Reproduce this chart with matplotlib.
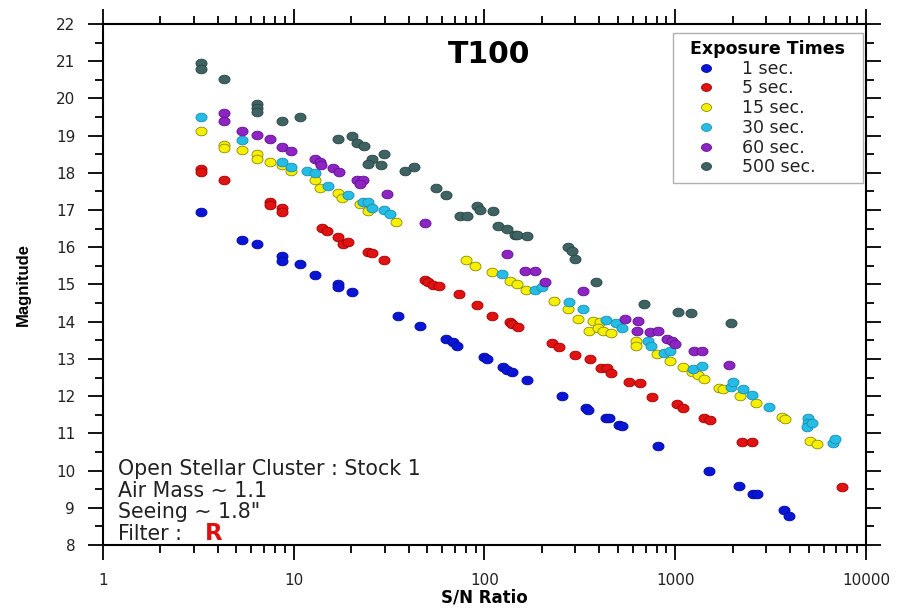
import matplotlib.pyplot as plt
import numpy as np
from matplotlib.path import Path
from matplotlib.ticker import LogLocator, MultipleLocator, FixedLocator

plt.rcParams['font.family'] = ['DejaVu Sans']

# S/N ratio and magnitude, one pair of lists per exposure time
sn_1 = [3.25, 5.38, 6.44, 8.65, 8.65, 10.8, 12.9, 17.1, 17.1, 20.3, 35.1, 45.7, 62.8, 68.6, 71.5,
        99.4, 103.5, 125.6, 131.7, 138.9, 166.4, 255.8, 339.5, 350, 431.7, 449.5, 507, 524, 815,
        1508, 2147, 2566, 2673, 3716, 3948]
mag_1 = [16.95, 16.2, 16.1, 15.77, 15.64, 15.55, 15.25, 15.0, 14.93, 14.79, 14.16, 13.88, 13.53, 13.45, 13.36,
         13.05, 12.99, 12.79, 12.7, 12.64, 12.43, 12.0, 11.69, 11.64, 11.42, 11.42, 11.23, 11.2, 10.66,
         10.0, 9.58, 9.36, 9.36, 8.94, 8.77]

sn_5 = [3.25, 3.25, 4.31, 7.51, 7.51, 8.65, 8.65, 14.0, 14.9, 17.1, 18.2, 19.3, 24.6, 25.8, 29.8,
        48.8, 50.7, 53.9, 58.0, 73.2, 91.7, 109.9, 136, 139, 149.3, 225, 246, 298, 357, 408, 439,
        460, 574, 653, 753, 1018, 1094, 1420, 1521, 2230, 2535, 7460]
mag_5 = [18.1, 18.01, 17.8, 17.21, 17.14, 17.06, 16.96, 16.51, 16.44, 16.28, 16.09, 16.15, 15.87, 15.85, 15.67,
         15.12, 15.06, 14.99, 14.96, 14.74, 14.45, 14.15, 14.0, 13.94, 13.87, 13.44, 13.31, 13.1, 12.99, 12.75, 12.75,
         12.63, 12.37, 12.34, 11.99, 11.78, 11.67, 11.4, 11.37, 10.76, 10.76, 9.55]

sn_15 = [3.25, 4.31, 4.31, 5.38, 6.44, 6.44, 7.51, 8.65, 9.64, 12.9, 13.7, 17.1, 18.0, 22.2, 24.6, 34.2,
         79.7, 89.1, 109.9, 136, 148.6, 165, 231, 275, 310, 372, 403, 353, 395, 420, 459, 622, 622,
         805, 938, 1094, 1219, 1312, 1415, 1695, 1786, 2184, 2641, 3640, 3761, 5086, 5555]
mag_15 = [19.12, 18.76, 18.67, 18.62, 18.5, 18.37, 18.3, 18.2, 18.05, 17.8, 17.6, 17.45, 17.33, 17.15, 16.97, 16.68,
          15.66, 15.5, 15.33, 15.1, 15.0, 14.86, 14.55, 14.34, 14.08, 14.01, 13.98, 13.76, 13.83, 13.75, 13.7, 13.47, 13.34,
          13.12, 12.95, 12.78, 12.64, 12.58, 12.47, 12.23, 12.19, 12.01, 11.81, 11.43, 11.39, 10.79, 10.71]

sn_30 = [3.25, 5.38, 8.65, 9.64, 11.8, 12.9, 15.1, 19.3, 23.2, 24.6, 25.8, 29.8, 32.0, 123, 185, 201,
         278, 327, 432, 491, 528, 722, 749, 877, 938, 1244, 1376, 1961, 2016, 2259, 2535, 3113,
         4986, 4986, 4887, 5193, 6743, 6876]
mag_30 = [19.5, 18.88, 18.28, 18.16, 18.04, 18.0, 17.64, 17.4, 17.22, 17.22, 17.06, 17.0, 16.9, 15.29, 14.86, 14.93,
          14.52, 14.34, 14.05, 13.96, 13.84, 13.47, 13.35, 13.17, 13.22, 12.74, 12.8, 12.25, 12.37, 12.2, 12.02, 11.72,
          11.4, 11.29, 11.17, 11.28, 10.73, 10.84]

sn_60 = [4.31, 4.31, 5.38, 6.44, 7.51, 8.65, 9.64, 12.9, 13.7, 13.95, 16.0, 17.3, 21.4, 23.2, 22.2, 30.9,
         48.8, 132, 163, 185, 207.6, 329.6, 548, 640, 628, 738, 815, 902, 967, 1003, 1259, 1376, 1920]
mag_60 = [19.62, 19.39, 19.12, 19.01, 18.9, 18.69, 18.59, 18.36, 18.3, 18.22, 18.14, 18.03, 17.8, 17.8, 17.69, 17.42,
          16.64, 15.83, 15.36, 15.35, 15.08, 14.83, 14.06, 14.01, 13.74, 13.72, 13.74, 13.53, 13.49, 13.39, 13.22, 13.22, 12.83]

sn_500 = [3.25, 3.25, 4.31, 6.44, 6.44, 6.44, 8.65, 10.8, 17.1, 20.3, 21.4, 23.4, 25.6, 24.6, 28.7, 29.8,
          38.3, 42.7, 55.5, 62.8, 74.4, 80.7, 91.7, 94.7, 111.2, 117.3, 130.8, 144.5, 148.6, 167,
          275, 286.6, 298, 383, 683, 1028, 1214, 1961]
mag_500 = [20.95, 20.8, 20.52, 19.85, 19.74, 19.63, 19.39, 19.5, 18.9, 19.0, 18.8, 18.73, 18.37, 18.23, 18.22, 18.5,
           18.05, 18.16, 17.6, 17.41, 16.85, 16.83, 17.1, 17.0, 16.97, 16.58, 16.5, 16.32, 16.32, 16.3,
           16.01, 15.9, 15.69, 15.07, 14.48, 14.25, 14.23, 13.96]

series = [
    ('1 sec.', sn_1, mag_1, '#0a14d6', '#000c9a'),
    ('5 sec.', sn_5, mag_5, '#e01212', '#a00000'),
    ('15 sec.', sn_15, mag_15, '#f6f000', '#8c8a00'),
    ('30 sec.', sn_30, mag_30, '#25bde6', '#1a8cae'),
    ('60 sec.', sn_60, mag_60, '#8e25c2', '#5e1090'),
    ('500 sec.', sn_500, mag_500, '#3f6363', '#2a4444'),
]

# slightly flattened dot, as in the original
t = np.linspace(0, 2 * np.pi, 40)
dot = Path(np.column_stack([np.cos(t), 0.78 * np.sin(t)]), closed=True)

fig = plt.figure(figsize=(9.06, 6.09), dpi=100)
ax = fig.add_axes([0.1137, 0.1051, 0.8421, 0.8555])

for name, sn, mag, fc, ec in series:
    ax.plot(sn, mag, linestyle='none', marker=dot, markersize=8,
            markerfacecolor=fc, markeredgecolor=ec, markeredgewidth=0.6, label=name)

ax.set_xscale('log')
ax.set_xlim(1, 10000)
ax.set_ylim(8, 22)
ax.xaxis.set_major_locator(FixedLocator([1, 10, 100, 1000, 10000]))
ax.xaxis.set_minor_locator(LogLocator(base=10, subs=np.arange(2, 10)))
ax.set_xticklabels(['1', '10', '100', '1000', '10000'])
ax.yaxis.set_major_locator(MultipleLocator(1))
ax.yaxis.set_minor_locator(MultipleLocator(0.5))

for s in ax.spines.values():
    s.set_linewidth(1.5)
ax.tick_params(which='both', direction='out', top=True, right=True, width=1.3,
               labelsize=11, pad=9, labelcolor='#222222')
ax.tick_params(which='major', length=11)
ax.tick_params(which='minor', length=6)

ax.set_xlabel('S/N Ratio', fontsize=12, fontweight='bold')
ax.xaxis.set_label_coords(0.5, -0.083)
ax.set_ylabel('Magnitude', fontsize=12, fontweight='bold', family=['Liberation Sans'])
ax.yaxis.set_label_coords(-0.095, 0.5)

ax.text(0.506, 0.942, 'T100', transform=ax.transAxes, ha='center', va='center',
        fontsize=21.5, fontweight='bold')

info = ['Open Stellar Cluster : Stock 1', 'Air Mass ~ 1.1', 'Seeing ~ 1.8"', 'Filter : ']
for i, line in enumerate(info):
    ax.text(0.019, 0.146 - i * 0.0415, line, transform=ax.transAxes, ha='left', va='center',
            fontsize=14.8, color='#222222')
ax.text(0.1337, 0.146 - 3 * 0.0415, 'R', transform=ax.transAxes, ha='left', va='center',
        fontsize=16.5, fontweight='bold', color='#e01010')

leg = ax.legend(loc='upper left', bbox_to_anchor=(0.747, 0.6, 0.249, 0.3827), mode='expand',
                title='Exposure Times',
                fontsize=12.5, title_fontproperties={'weight': 'bold', 'size': 12.5},
                frameon=True, fancybox=False, edgecolor='#b0b0b0', framealpha=1,
                handlelength=3.0, handletextpad=0.55, labelspacing=0.1, borderpad=0.4,
                borderaxespad=0, markerscale=0.9)
leg.get_frame().set_linewidth(1.0)
for txt in leg.get_texts():
    txt.set_color('#222222')

fig.savefig('out.png', dpi=100)
